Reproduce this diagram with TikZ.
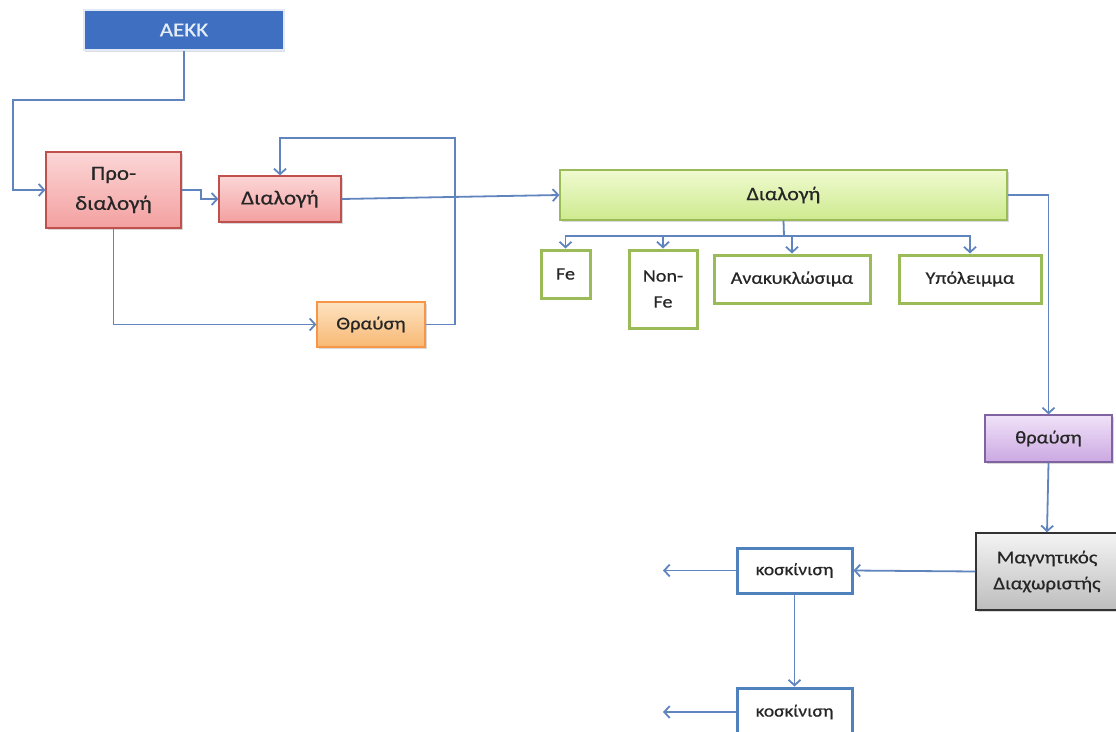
\documentclass[tikz,border=0pt]{standalone}
\usepackage{fontspec}
\setmainfont{Carlito}[FakeStretch=1.15,FakeBold=0.6]
\usetikzlibrary{arrows.meta,shadows,calc}
\definecolor{linec}{HTML}{5F84BE}
\definecolor{aekkfill}{HTML}{3E6FC0}
\definecolor{aekktext}{HTML}{E4ECF6}
\definecolor{pinktop}{HTML}{FCD6D6}
\definecolor{pinkbot}{HTML}{F3A0A0}
\definecolor{pinkedge}{HTML}{C0504D}
\definecolor{orgtop}{HTML}{FDE3C0}
\definecolor{orgbot}{HTML}{F8B874}
\definecolor{orgedge}{HTML}{F79646}
\definecolor{grntop}{HTML}{F0FAD0}
\definecolor{grnbot}{HTML}{CDEA8E}
\definecolor{grnedge}{HTML}{9BBB59}
\definecolor{purtop}{HTML}{F0E2F8}
\definecolor{purbot}{HTML}{CBA8E2}
\definecolor{puredge}{HTML}{8064A2}
\definecolor{grytop}{HTML}{F4F4F4}
\definecolor{grybot}{HTML}{BDBDBD}
\definecolor{bluedge}{HTML}{4F81BD}
\definecolor{txt}{HTML}{262626}
\begin{document}
\begin{tikzpicture}[x=1pt,y=-1pt,
  arr/.style={draw=linec, line width=1.8pt, -{Straight Barb[length=5.5pt,width=12pt]}},
  plain/.style={draw=linec, line width=1.8pt},
  box/.style={rectangle, inner sep=2pt, align=center, text=txt,
    drop shadow={shadow xshift=2pt, shadow yshift=-2pt, opacity=0.3}},
  pinkbox/.style={box, draw=pinkedge, line width=1.2pt, top color=pinktop, bottom color=pinkbot,
    font=\fontsize{20}{30}\selectfont},
  orgbox/.style={box, draw=orgedge, line width=1.2pt, top color=orgtop, bottom color=orgbot,
    font=\fontsize{18}{24}\selectfont},
  grnbox/.style={box, draw=grnedge, line width=1.2pt, top color=grntop, bottom color=grnbot,
    font=\fontsize{19}{24}\selectfont},
  outbox/.style={rectangle, inner sep=2pt, align=center, text=txt, fill=white,
    draw=grnedge, line width=3pt, font=\fontsize{17.5}{26}\selectfont},
  purbox/.style={box, draw=puredge, line width=1.2pt, top color=purtop, bottom color=purbot,
    font=\fontsize{18}{24}\selectfont},
  grybox/.style={box, draw=black!80, line width=1.4pt, top color=grytop, bottom color=grybot,
    font=\fontsize{18}{26}\selectfont},
  sievebox/.style={rectangle, inner sep=2pt, align=center, text=txt, fill=white,
    draw=bluedge, line width=3pt, font=\fontsize{17}{20}\selectfont}
]
\useasboundingbox (0,0) rectangle (1116,731);

\node[rectangle, fill=aekkfill, draw=white!85!aekkfill, line width=2pt, text=aekktext,
  minimum width=200pt, minimum height=40pt, font=\fontsize{20}{24}\selectfont,
  drop shadow={shadow xshift=1pt, shadow yshift=-2pt, opacity=0.25}] (aekk) at (184,30) {AEKK};

\node[pinkbox, minimum width=135pt, minimum height=76pt] (pro) at (113.5,190) {Προ-\\διαλογή};
\node[pinkbox, minimum width=122pt, minimum height=46pt] (dia1) at (280,199) {Διαλογή};
\node[orgbox, minimum width=108pt, minimum height=45pt] (thr) at (371,324.5) {Θραύση};

\node[grnbox, minimum width=447pt, minimum height=50pt] (green) at (783.5,195) {Διαλογή};
\node[outbox, minimum width=49pt, minimum height=48pt] (fe) at (565.5,274) {Fe};
\node[outbox, minimum width=68pt, minimum height=78pt] (nonfe) at (663,289) {Non-\\Fe};
\node[outbox, minimum width=156pt, minimum height=48pt] (ana) at (792,279) {Ανακυκλώσιμα};
\node[outbox, minimum width=142pt, minimum height=48pt] (ypo) at (970,279) {Υπόλειμμα};

\node[purbox, minimum width=127pt, minimum height=47pt] (purp) at (1048.5,438.5) {θραύση};
\node[grybox, minimum width=142pt, minimum height=77pt] (gray) at (1047,571.5) {Μαγνητικός\\Διαχωριστής};
\node[sievebox, minimum width=115pt, minimum height=45pt] (k1) at (794.5,570.5) {κοσκίνιση};
\node[sievebox, minimum width=115pt, minimum height=48pt] (k2) at (794.5,712) {κοσκίνιση};

\coordinate (a1) at (13,100);
\coordinate (fb) at (455,138);
\coordinate (bus) at (784,236);
\coordinate (o1) at (663,570.5);
\coordinate (o2) at (663,712);

\draw[arr] (aekk.south) |- (a1) |- (pro.west);
\draw[arr] (pro.east) -- ++(19,0) |- (dia1.west);
\draw[arr] (pro.south) |- (thr.west);
\draw[arr] (thr.east) -| (fb) -| (dia1.north);
\draw[arr] (dia1.east) -- (green.west);
\draw[arr] (green.east) -| (purp.north);
\draw[plain] (green.south) -- (bus);
\draw[arr] (bus) -| (fe.north);
\draw[arr] (bus) -| (nonfe.north);
\draw[arr] (bus) -| (ana.north);
\draw[arr] (bus) -| (ypo.north);
\draw[arr] (purp.south) -- (gray.north);
\draw[arr] (gray.west) -- (k1.east);
\draw[arr] (k1.west) -- (o1);
\draw[arr] (k1.south) -- (k2.north);
\draw[arr] (k2.west) -- (o2);
\end{tikzpicture}
\end{document}
